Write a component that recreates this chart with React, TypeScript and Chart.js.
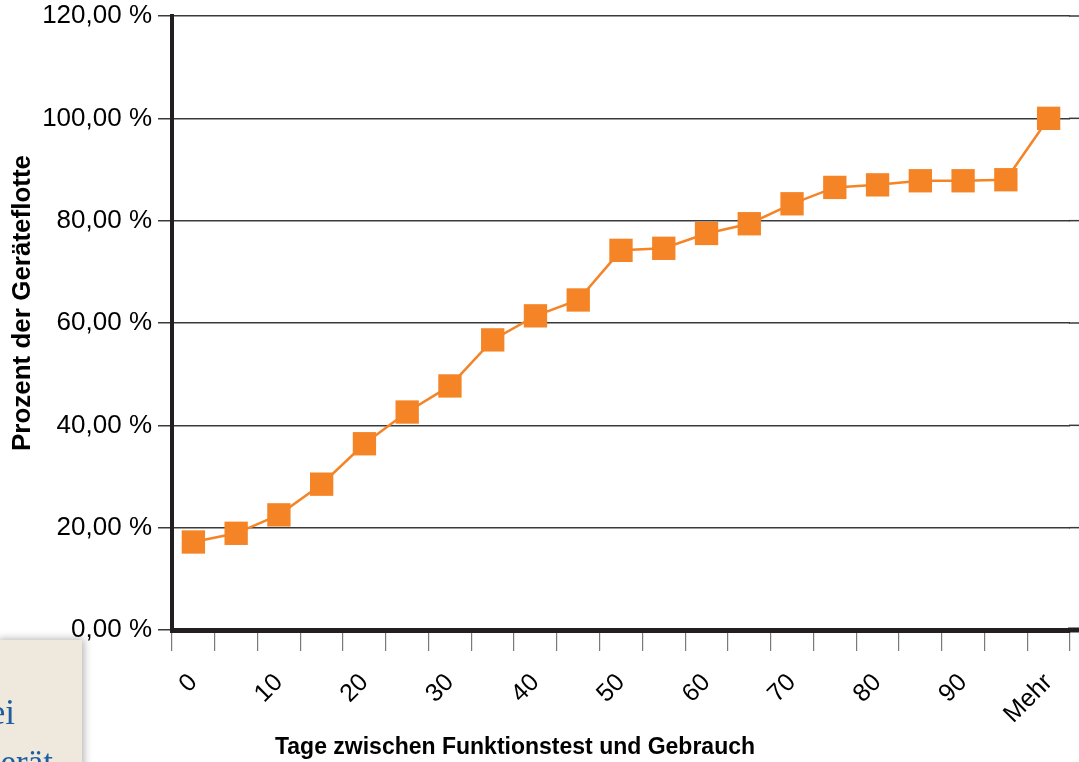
import React, { useEffect, useRef } from "react";
import { Chart, registerables } from "chart.js";

Chart.register(...registerables);

const categories: string[] = [
  "0", "5", "10", "15", "20", "25", "30", "35", "40", "45",
  "50", "55", "60", "65", "70", "75", "80", "85", "90", "95", "Mehr",
];
const percentValues: number[] = [
  17.2, 18.9, 22.5, 28.5, 36.4, 42.6, 47.7, 56.7, 61.4, 64.5,
  74.2, 74.6, 77.5, 79.4, 83.3, 86.5, 87.0, 87.8, 87.8, 88.0, 100,
];
const yTitle = "Prozent der Geräteflotte";
const xTitle = "Tage zwischen Funktionstest und Gebrauch";

const ORANGE = "#F58426";
const AXIS = "#231f20";
const GRID = "#3a3a3a";

const extendPlugin = {
  id: "extendAndTitles",
  beforeDatasetsDraw(chart: any) {
    const { ctx, chartArea, scales } = chart;
    const y = scales.y;
    ctx.save();
    ctx.strokeStyle = GRID;
    ctx.lineWidth = 1.5;
    y.ticks.forEach((t: any) => {
      const py = y.getPixelForValue(t.value);
      ctx.beginPath();
      ctx.moveTo(chartArea.right - 1, py);
      ctx.lineTo(chart.width, py);
      ctx.stroke();
    });
    ctx.strokeStyle = AXIS;
    ctx.lineWidth = 5;
    ctx.beginPath();
    ctx.moveTo(chartArea.right - 2, chartArea.bottom);
    ctx.lineTo(chart.width, chartArea.bottom);
    ctx.stroke();
    ctx.restore();
  },
  afterDraw(chart: any) {
    const { ctx, chartArea } = chart;
    ctx.save();
    ctx.fillStyle = "#000";
    ctx.textAlign = "center";
    ctx.textBaseline = "middle";
    ctx.font = "bold 26px 'Liberation Sans', Arial, sans-serif";
    ctx.translate(23, (chartArea.top + chartArea.bottom) / 2 - 20);
    ctx.rotate(-Math.PI / 2);
    ctx.fillText(yTitle, 0, 0);
    ctx.restore();
    ctx.save();
    ctx.fillStyle = "#000";
    ctx.textAlign = "center";
    ctx.textBaseline = "middle";
    ctx.font = "bold 23px 'Liberation Sans', Arial, sans-serif";
    ctx.fillText(xTitle, chartArea.left + 343, chartArea.bottom + 118);
    ctx.restore();
  },
};

export default function App() {
  const canvasRef = useRef<HTMLCanvasElement | null>(null);

  useEffect(() => {
    const prevMargin = document.body.style.margin;
    document.body.style.margin = "0";
    const canvas = canvasRef.current!;
    const chart = new Chart(canvas, {
      type: "line",
      data: {
        labels: categories,
        datasets: [
          {
            data: percentValues,
            borderColor: ORANGE,
            backgroundColor: ORANGE,
            borderWidth: 2.5,
            pointStyle: "rect",
            pointRadius: 16.5,
            pointHoverRadius: 16.5,
            pointBorderWidth: 0,
            pointBackgroundColor: ORANGE,
            tension: 0,
            clip: false as any,
          },
        ],
      },
      options: {
        responsive: false,
        animation: false,
        devicePixelRatio: 1,
        layout: { autoPadding: false, padding: { top: 16, right: 9, left: 0, bottom: 0 } },
        plugins: {
          legend: { display: false },
          tooltip: { enabled: false },
          title: { display: false },
        },
        scales: {
          x: {
            type: "category",
            offset: true,
            grid: {
              offset: true,
              drawOnChartArea: false,
              drawTicks: true,
              tickLength: 21,
              color: "#7a7a7a",
              lineWidth: 1.2,
            },
            border: { display: true, color: AXIS, width: 5 },
            ticks: {
              autoSkip: false,
              minRotation: 45,
              maxRotation: 45,
              padding: 17,
              color: "#000",
              font: { family: "'Liberation Sans', Arial, sans-serif", size: 25 },
              callback: (_v: any, i: number) => (i % 2 === 0 ? categories[i] : ""),
            },
            afterFit: (scale: any) => {
              scale.height = 132;
              scale.paddingLeft = 0;
              scale.paddingRight = 0;
            },
          },
          y: {
            min: 0,
            max: 120,
            grid: {
              drawOnChartArea: true,
              drawTicks: true,
              tickLength: 14,
              color: GRID,
              lineWidth: 1.5,
            },
            border: { display: true, color: AXIS, width: 4 },
            ticks: {
              stepSize: 20,
              padding: 6,
              color: "#000",
              font: { family: "'Liberation Sans', Arial, sans-serif", size: 26 },
              callback: (v: any) => Number(v).toFixed(2).replace(".", ",") + " %",
            },
            afterFit: (scale: any) => {
              scale.width = 172;
              scale.paddingTop = 0;
              scale.paddingBottom = 0;
            },
          },
        },
      },
      plugins: [extendPlugin],
    });
    return () => {
      chart.destroy();
      document.body.style.margin = prevMargin;
    };
  }, []);

  return (
    <div style={{ position: "fixed", left: 0, top: 0, width: 1079, height: 762, overflow: "hidden", background: "#fff" }}>
      <canvas ref={canvasRef} width={1079} height={762} style={{ display: "block", width: 1079, height: 762 }} />
      <div
        style={{
          position: "absolute",
          left: -4,
          top: 640,
          width: 86,
          height: 130,
          background: "#efe8dd",
          boxShadow: "2px -1px 8px rgba(0,0,0,0.3)",
          overflow: "hidden",
          fontFamily: "'Liberation Serif', 'DejaVu Serif', serif",
          color: "#1f5e9e",
        }}
      >
        <div style={{ position: "absolute", right: 67, top: 55, fontSize: 35, lineHeight: "36px", whiteSpace: "nowrap" }}>bei</div>
        <div style={{ position: "absolute", right: 29, top: 105, fontSize: 35, lineHeight: "36px", whiteSpace: "nowrap" }}>Gerät</div>
      </div>
    </div>
  );
}
